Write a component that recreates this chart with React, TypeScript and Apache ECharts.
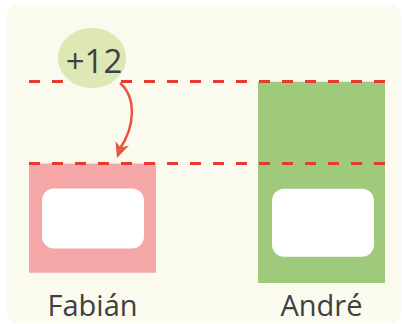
import React, { useEffect, useRef } from "react";
import * as echarts from "echarts";

const categories = ["Fabián", "André"];
const baseOffsets = [1.5, 0];
const barValues = [16, 29.5];
const barColors = ["#f4a7a6", "#9fca7b"];

export default function App() {
  const ref = useRef<HTMLDivElement>(null);
  useEffect(() => {
    document.body.style.margin = "0";
    const chart = echarts.init(ref.current!, null, { renderer: "svg" });
    const tops = barValues.map((v, i) => v + baseOffsets[i]);
    const diff = Math.round(tops[1] - tops[0]);
    const font = "Open Sans";
    const boxPos = [
      [13, 25],
      [14, 107],
    ];
    const boxH = [60, 68];
    chart.setOption({
      animation: false,
      grid: { left: 92.5, right: 80.5, top: 10, bottom: 41 },
      xAxis: {
        type: "category",
        data: categories,
        boundaryGap: false,
        axisLine: { show: false },
        axisTick: { show: false },
        axisLabel: { fontSize: 29, color: "#404040", fontFamily: font, margin: 7 },
      },
      yAxis: { type: "value", min: 0, max: 40, show: false, splitLine: { show: false } },
      graphic: [
        {
          type: "rect",
          z: -10,
          shape: { x: 7, y: 5, width: 394, height: 318, r: 10 },
          style: { fill: "#fafaee" },
        },
        {
          type: "bezierCurve",
          z: 100,
          shape: { x1: 120, y1: 83, cpx1: 136, cpy1: 97, cpx2: 136, cpy2: 126, x2: 119, y2: 150 },
          style: { stroke: "#e8553f", lineWidth: 2.5, fill: "none" },
        },
        {
          type: "polygon",
          z: 100,
          shape: { points: [[117, 158], [115.5, 141], [120.5, 147.5], [129, 145.5]] },
          style: { fill: "#e8553f" },
        },
        {
          type: "ellipse",
          z: 101,
          shape: { cx: 92, cy: 58, rx: 34, ry: 30 },
          style: { fill: "#dde8b4" },
        },
        {
          type: "text",
          z: 102,
          x: 94,
          y: 60,
          style: {
            text: "+" + diff,
            fontSize: 33,
            fontFamily: font,
            fill: "#404040",
            align: "center",
            verticalAlign: "middle",
          },
        },
      ],
      series: [
        {
          type: "bar",
          stack: "s",
          barWidth: 127,
          silent: true,
          data: baseOffsets,
          itemStyle: { color: "rgba(0,0,0,0)" },
        },
        {
          type: "bar",
          stack: "s",
          barWidth: 127,
          data: barValues.map((v, i) => ({
            value: v,
            itemStyle: { color: barColors[i] },
            label: {
              show: true,
              formatter: " ",
              position: boxPos[i],
              align: "left",
              verticalAlign: "top",
              backgroundColor: "#ffffff",
              borderRadius: 12,
              width: 102,
              height: boxH[i],
              padding: 0,
            },
          })),
          markLine: {
            silent: true,
            symbol: "none",
            label: { show: false },
            lineStyle: { color: "#e63a32", width: 3, type: [11, 12] },
            data: tops.map((t) => [
              { yAxis: t, x: 29 },
              { yAxis: t, x: 385 },
            ]),
          },
        },
      ],
    });
    return () => chart.dispose();
  }, []);
  return <div ref={ref} style={{ width: 402, height: 324 }} />;
}
